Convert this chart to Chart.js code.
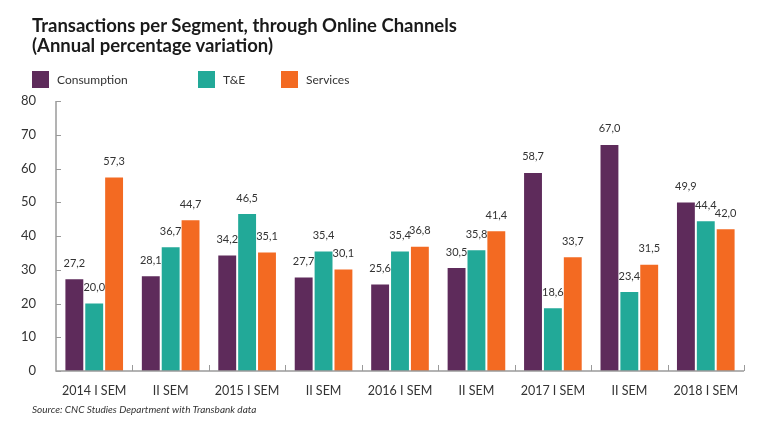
<!DOCTYPE html>
<html>
<head>
<meta charset="utf-8">
<script src="https://cdn.jsdelivr.net/npm/chart.js@4"></script>
<style>
  html, body { margin: 0; padding: 0; background: #fff; }
  #wrap { position: relative; width: 768px; height: 426px; overflow: hidden; font-family: Lato, "Open Sans", sans-serif; }
  #title { position: absolute; left: 32px; top: 15px; font-size: 18.5px; font-weight: 700; color: #1a1a1a; line-height: 20px; }
  #legend { position: absolute; left: 0; top: 70px; width: 768px; height: 20px; }
  .li { position: absolute; top: 0; height: 18px; display: flex; align-items: center; font-size: 12px; color: #333; }
  .sw { width: 17px; height: 17px; margin-right: 8px; }
  #source { position: absolute; left: 32px; top: 403px; font-size: 10px; font-style: italic; color: #333; }
  canvas { position: absolute; left: 0; top: 0; }
</style>
</head>
<body>
<div id="wrap">
  <canvas id="c" width="768" height="426"></canvas>
  <div id="title">Transactions per Segment, through Online Channels<br>(Annual percentage variation)</div>
  <div id="legend"></div>
  <div id="source">Source: CNC Studies Department with Transbank data</div>
</div>
<script>
const categories = ["2014 I SEM", "II SEM", "2015 I SEM", "II SEM", "2016 I SEM", "II SEM", "2017 I SEM", "II SEM", "2018 I SEM"];
const consumption = [27.2, 28.1, 34.2, 27.7, 25.6, 30.5, 58.7, 67.0, 49.9];
const tne = [20.0, 36.7, 46.5, 35.4, 35.4, 35.8, 18.6, 23.4, 44.4];
const services = [57.3, 44.7, 35.1, 30.1, 36.8, 41.4, 33.7, 31.5, 42.0];
const seriesNames = ["Consumption", "T&E", "Services"];
const seriesColors = ["#5e2b5b", "#22a998", "#f36a22"];
const legendX = [32, 198, 281];

// HTML legend
const lg = document.getElementById('legend');
seriesNames.forEach((n, i) => {
  const d = document.createElement('div');
  d.className = 'li';
  d.style.left = legendX[i] + 'px';
  const s = document.createElement('div');
  s.className = 'sw';
  s.style.background = seriesColors[i];
  const t = document.createElement('span');
  t.textContent = n;
  d.appendChild(s); d.appendChild(t);
  lg.appendChild(d);
});

const FONT = "Lato, 'Open Sans', sans-serif";

const valueLabels = {
  id: 'valueLabels',
  afterDatasetsDraw(chart) {
    const ctx = chart.ctx;
    ctx.save();
    ctx.font = "11px " + FONT;
    ctx.fillStyle = "#333";
    ctx.textAlign = "center";
    ctx.textBaseline = "middle";
    chart.data.datasets.forEach((ds, di) => {
      chart.getDatasetMeta(di).data.forEach((bar, i) => {
        const v = ds.data[i];
        ctx.fillText(v.toFixed(1).replace('.', ','), bar.x, bar.y - 16);
      });
    });
    ctx.restore();
  }
};

const innerTicks = {
  id: 'innerTicks',
  afterDraw(chart) {
    const ctx = chart.ctx;
    const x = chart.scales.x, y = chart.scales.y;
    ctx.save();
    ctx.strokeStyle = "#9a9a9a";
    ctx.lineWidth = 1.5;
    ctx.beginPath();
    ctx.moveTo(x.left, y.top);
    ctx.lineTo(x.left, y.bottom);
    ctx.lineTo(x.right, y.bottom);
    ctx.stroke();
    ctx.lineWidth = 1;
    y.ticks.forEach(t => {
      const py = Math.round(y.getPixelForValue(t.value)) + 0.5;
      ctx.beginPath();
      ctx.moveTo(x.left, py);
      ctx.lineTo(x.left + 5, py);
      ctx.stroke();
    });
    const n = categories.length;
    for (let i = 1; i <= n; i++) {
      const px = Math.round(x.left + (x.right - x.left) * i / n) + 0.5;
      ctx.beginPath();
      ctx.moveTo(px, y.bottom);
      ctx.lineTo(px, y.bottom - 6);
      ctx.stroke();
    }
    ctx.restore();
  }
};

new Chart(document.getElementById('c'), {
  type: 'bar',
  data: {
    labels: categories,
    datasets: [
      { label: seriesNames[0], data: consumption, backgroundColor: seriesColors[0] },
      { label: seriesNames[1], data: tne, backgroundColor: seriesColors[1] },
      { label: seriesNames[2], data: services, backgroundColor: seriesColors[2] }
    ]
  },
  options: {
    responsive: false,
    animation: false,
    devicePixelRatio: 1,
    layout: { padding: { top: 101, right: 24, left: 0, bottom: 0 } },
    datasets: { bar: { categoryPercentage: 0.78, barPercentage: 0.9 } },
    plugins: { legend: { display: false }, tooltip: { enabled: false }, title: { display: false } },
    scales: {
      x: {
        grid: { display: false },
        border: { display: false },
        ticks: { color: "#333", font: { family: FONT, size: 12.5 }, padding: 4, maxRotation: 0, autoSkip: false },
        afterFit(s) { s.height = 55; }
      },
      y: {
        min: 0, max: 80,
        grid: { display: false },
        border: { display: false },
        ticks: { stepSize: 10, color: "#333", font: { family: FONT, size: 13 }, padding: 12 },
        afterFit(s) { s.width = 56; }
      }
    }
  },
  plugins: [valueLabels, innerTicks]
});
</script>
</body>
</html>
